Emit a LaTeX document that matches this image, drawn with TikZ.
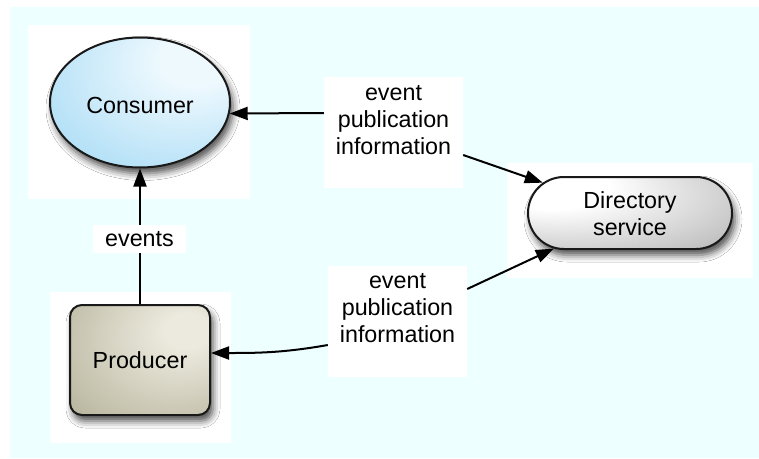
\documentclass[tikz,border=0pt]{standalone}
\usepackage{fontspec}
\setmainfont{Liberation Sans}
\usetikzlibrary{shapes.geometric,shapes.misc,shadows.blur,arrows.meta,calc}

\definecolor{bgcyan}{RGB}{238,255,255}
\definecolor{consin}{RGB}{238,249,254}
\definecolor{consout}{RGB}{128,202,240}
\definecolor{prodin}{RGB}{236,234,222}
\definecolor{prodout}{RGB}{160,157,128}
\definecolor{dirin}{RGB}{255,255,255}
\definecolor{dirout}{RGB}{145,145,145}

% off-centre radial fills for the three components
\pgfdeclareradialshading{consshade}{\pgfpoint{18bp}{19bp}}{%
  color(0bp)=(consin); color(10bp)=(consin); color(64bp)=(consout); color(80bp)=(consout)}
\pgfdeclareradialshading{prodshade}{\pgfpoint{19bp}{15bp}}{%
  color(0bp)=(prodin); color(8bp)=(prodin); color(62bp)=(prodout); color(75bp)=(prodout)}
\pgfdeclareradialshading{dirshade}{\pgfpoint{-25bp}{22bp}}{%
  color(0bp)=(dirin); color(15bp)=(dirin); color(65bp)=(dirout); color(75bp)=(dirout)}

\begin{document}
\begin{tikzpicture}[x=1pt,y=-1pt,
  every node/.style={font=\fontsize{23.3}{27}\selectfont},
  component/.style={draw=black!90, line width=2pt, inner sep=0pt,
    blur shadow={shadow xshift=3pt, shadow yshift=-6pt,
      shadow blur radius=7pt, shadow opacity=70}},
  labbox/.style={fill=white, inner sep=0pt},
  labtxt/.style={align=center, inner sep=0pt},
  arr/.style={line width=2pt, -{Triangle[length=18pt,width=13pt]}}]

\useasboundingbox (0,0) rectangle (759,458);
\fill[white] (0,0) rectangle (759,458);
\fill[bgcyan] (10,7) rectangle (759,458);

% white pads behind the components
\fill[white] (28,25) rectangle (250,199);
\fill[white] (50,292) rectangle (231,443);
\fill[white] (507,163) rectangle (753,278);

% components
\node[component, ellipse, minimum width=180pt, minimum height=130pt,
      shade, shading=consshade] (con) at (140,102.5) {};
\node[labtxt] (contxt) at (140,105) {Consumer};

\node[component, rectangle, rounded corners=12pt, minimum width=140pt,
      minimum height=110pt, shade, shading=prodshade] (prod) at (140,360) {};
\node[labtxt] (prodtxt) at (140,360) {Producer};

\node[component, rounded rectangle, minimum width=204pt, minimum height=72pt,
      shade, shading=dirshade] (dir) at (630,213) {};
\node[labtxt] (dirtxt) at (630,213.5) {Directory\\service};

% label boxes
\node[labbox, minimum width=139pt, minimum height=111pt] (lab1) at (393.5,132.5) {};
\node[labtxt] (lab1t) at (393.5,120) {event\\publication\\information};

\node[labbox, minimum width=139pt, minimum height=111pt] (lab2) at (397.5,321.5) {};
\node[labtxt] (lab2t) at (397.5,308) {event\\publication\\information};

% connectors
\draw[arr] ($(lab1.west)+(0,-19.5)$) -- (con.-7);
\draw[arr] ($(lab1.east)+(0,22.5)$) -- (dir);
\draw[arr] ($(lab2.east)+(0,-32.5)$) -- (dir);
\draw[arr] ($(lab2.west)+(0,23.5)$) to[out=190,in=0] ($(prod.east)+(0,-7)$);
\draw[arr] (prod) -- (con);

\node[labbox, minimum width=93pt, minimum height=28pt] (evt) at (139.5,239) {events};
\end{tikzpicture}
\end{document}
